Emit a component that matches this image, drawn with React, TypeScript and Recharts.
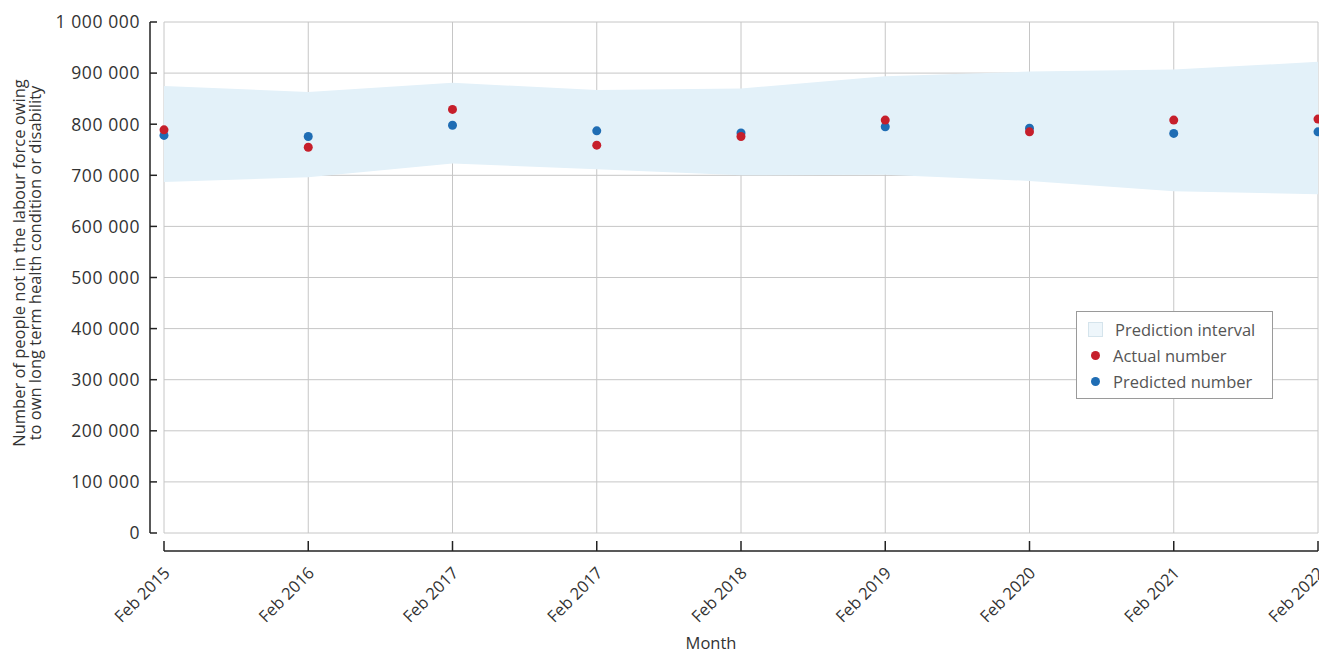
import React from 'react';
import { ComposedChart, Area, Line, XAxis, YAxis, CartesianGrid, Legend } from 'recharts';

const MONTHS = ['Feb 2015', 'Feb 2016', 'Feb 2017', 'Feb 2017', 'Feb 2018', 'Feb 2019', 'Feb 2020', 'Feb 2021', 'Feb 2022'];
const ACTUAL = [789000, 755000, 829000, 759000, 776000, 808000, 785000, 808000, 810000];
const PREDICTED = [778000, 776000, 798000, 787000, 783000, 795000, 792000, 782000, 785000];
const INTERVAL_LOW = [687000, 696000, 723000, 712000, 700000, 701000, 689000, 669000, 663000];
const INTERVAL_HIGH = [875000, 863000, 881000, 867000, 870000, 894000, 903000, 907000, 922000];
const Y_TICKS = [0, 100000, 200000, 300000, 400000, 500000, 600000, 700000, 800000, 900000, 1000000];

const data = MONTHS.map((_, i) => ({
  slot: i,
  interval: [INTERVAL_LOW[i], INTERVAL_HIGH[i]],
  actual: ACTUAL[i],
  predicted: PREDICTED[i],
}));

const WIDTH = 1319;
const HEIGHT = 654;
const MARGIN = { top: 22, right: 1, left: 0, bottom: 0 };
const Y_AXIS_W = 164;
const X_AXIS_H = 121;
const PLOT_LEFT = MARGIN.left + Y_AXIS_W;
const PLOT_RIGHT = WIDTH - MARGIN.right;
const PLOT_TOP = MARGIN.top;
const PLOT_BOTTOM = HEIGHT - MARGIN.bottom - X_AXIS_H;
const Y_AXIS_X = PLOT_LEFT - 14;
const X_AXIS_Y = PLOT_BOTTOM + 18;

const FONT = '"Open Sans", sans-serif';
const TEXT = '#333';
const AXIS = '#222';
const BAND = '#e3f1f9';
const RED = '#c61f2b';
const BLUE = '#1f6db4';

const fmt = (v: number) => String(v).replace(/\B(?=(\d{3})+(?!\d))/g, ' ');

// y axis sits a little left of the plot, so ticks and line are drawn by hand
const YTick = (props: any) => {
  const { payload, index } = props;
  const y = payload.coordinate;
  return (
    <g>
      {index === 0 && (
        <line x1={Y_AXIS_X} x2={Y_AXIS_X} y1={PLOT_TOP} y2={PLOT_BOTTOM} stroke={AXIS} strokeWidth={1.5} />
      )}
      <line x1={Y_AXIS_X} x2={Y_AXIS_X + 7} y1={y} y2={y} stroke={AXIS} strokeWidth={1.5} />
      <text
        x={Y_AXIS_X - 10}
        y={y}
        dy="0.36em"
        textAnchor="end"
        fill={TEXT}
        fontSize={17.5}
        letterSpacing={0.6}
        fontFamily={FONT}
      >
        {fmt(payload.value)}
      </text>
    </g>
  );
};

const XTick = (props: any) => {
  const { payload, index } = props;
  const x = payload.coordinate;
  const tx = x + 7;
  const ty = X_AXIS_Y + 23;
  return (
    <g>
      {index === 0 && (
        <line x1={PLOT_LEFT} x2={PLOT_RIGHT} y1={X_AXIS_Y} y2={X_AXIS_Y} stroke={AXIS} strokeWidth={1.5} />
      )}
      <line x1={x} x2={x} y1={X_AXIS_Y - 10} y2={X_AXIS_Y} stroke={AXIS} strokeWidth={1.5} />
      <text
        x={tx}
        y={ty}
        textAnchor="end"
        transform={`rotate(-45 ${tx} ${ty})`}
        fill={TEXT}
        fontSize={16.5}
        fontFamily={FONT}
      >
        {MONTHS[payload.value]}
      </text>
    </g>
  );
};

const YLabel = () => (
  <text transform="rotate(-90)" textAnchor="middle" fill={TEXT} fontSize={16.5} fontFamily={FONT}>
    <tspan x={-263} y={25}>Number of people not in the labour force owing</tspan>
    <tspan x={-263} y={41}>to own long term health condition or disability</tspan>
  </text>
);

const XLabel = () => (
  <text x={711} y={649} textAnchor="middle" fill={TEXT} fontSize={16.5} fontFamily={FONT}>
    Month
  </text>
);

const LEGEND_ITEMS = [
  { name: 'Prediction interval', kind: 'square', color: BAND },
  { name: 'Actual number', kind: 'dot', color: RED },
  { name: 'Predicted number', kind: 'dot', color: BLUE },
];

const LegendBox = () => (
  <div
    style={{
      border: '1px solid #9a9a9a',
      background: '#fff',
      padding: '4px 14px 4px 0',
      fontFamily: FONT,
      fontSize: 16.5,
      color: '#555',
    }}
  >
    {LEGEND_ITEMS.map((it) => (
      <div key={it.name} style={{ display: 'flex', alignItems: 'center', height: 26 }}>
        <div style={{ width: 36, display: 'flex', justifyContent: 'center' }}>
          {it.kind === 'square' ? (
            <div style={{ width: 13, height: 13, background: '#eef6fb', border: '1px solid #d5e4ec' }} />
          ) : (
            <div style={{ width: 9, height: 9, borderRadius: '50%', background: it.color }} />
          )}
        </div>
        <span style={{ marginLeft: it.kind === 'square' ? 2 : 0 }}>{it.name}</span>
      </div>
    ))}
  </div>
);

export default function App() {
  return (
    <div style={{ position: 'absolute', left: 0, top: 0, background: '#fff' }}>
      <ComposedChart width={WIDTH} height={HEIGHT} data={data} margin={MARGIN}>
        <CartesianGrid stroke="#c6c6c6" strokeWidth={1} />
        <XAxis
          dataKey="slot"
          type="category"
          scale="point"
          height={X_AXIS_H}
          axisLine={false}
          tickLine={false}
          tick={<XTick />}
          interval={0}
          label={<XLabel />}
        />
        <YAxis
          width={Y_AXIS_W}
          domain={[0, 1000000]}
          ticks={Y_TICKS}
          axisLine={false}
          tickLine={false}
          tick={<YTick />}
          interval={0}
          label={<YLabel />}
        />
        <Legend
          layout="horizontal"
          verticalAlign="middle"
          align="center"
          content={<LegendBox />}
          wrapperStyle={{ left: 1076, top: 311, width: 197 }}
        />
        <Area
          dataKey="interval"
          type="linear"
          stroke="none"
          fill={BAND}
          fillOpacity={1}
          isAnimationActive={false}
          activeDot={false}
        />
        <Line
          dataKey="predicted"
          stroke="none"
          dot={{ r: 4.5, fill: BLUE, stroke: 'none' }}
          activeDot={false}
          isAnimationActive={false}
        />
        <Line
          dataKey="actual"
          stroke="none"
          dot={{ r: 4.5, fill: RED, stroke: 'none' }}
          activeDot={false}
          isAnimationActive={false}
        />
      </ComposedChart>
    </div>
  );
}
